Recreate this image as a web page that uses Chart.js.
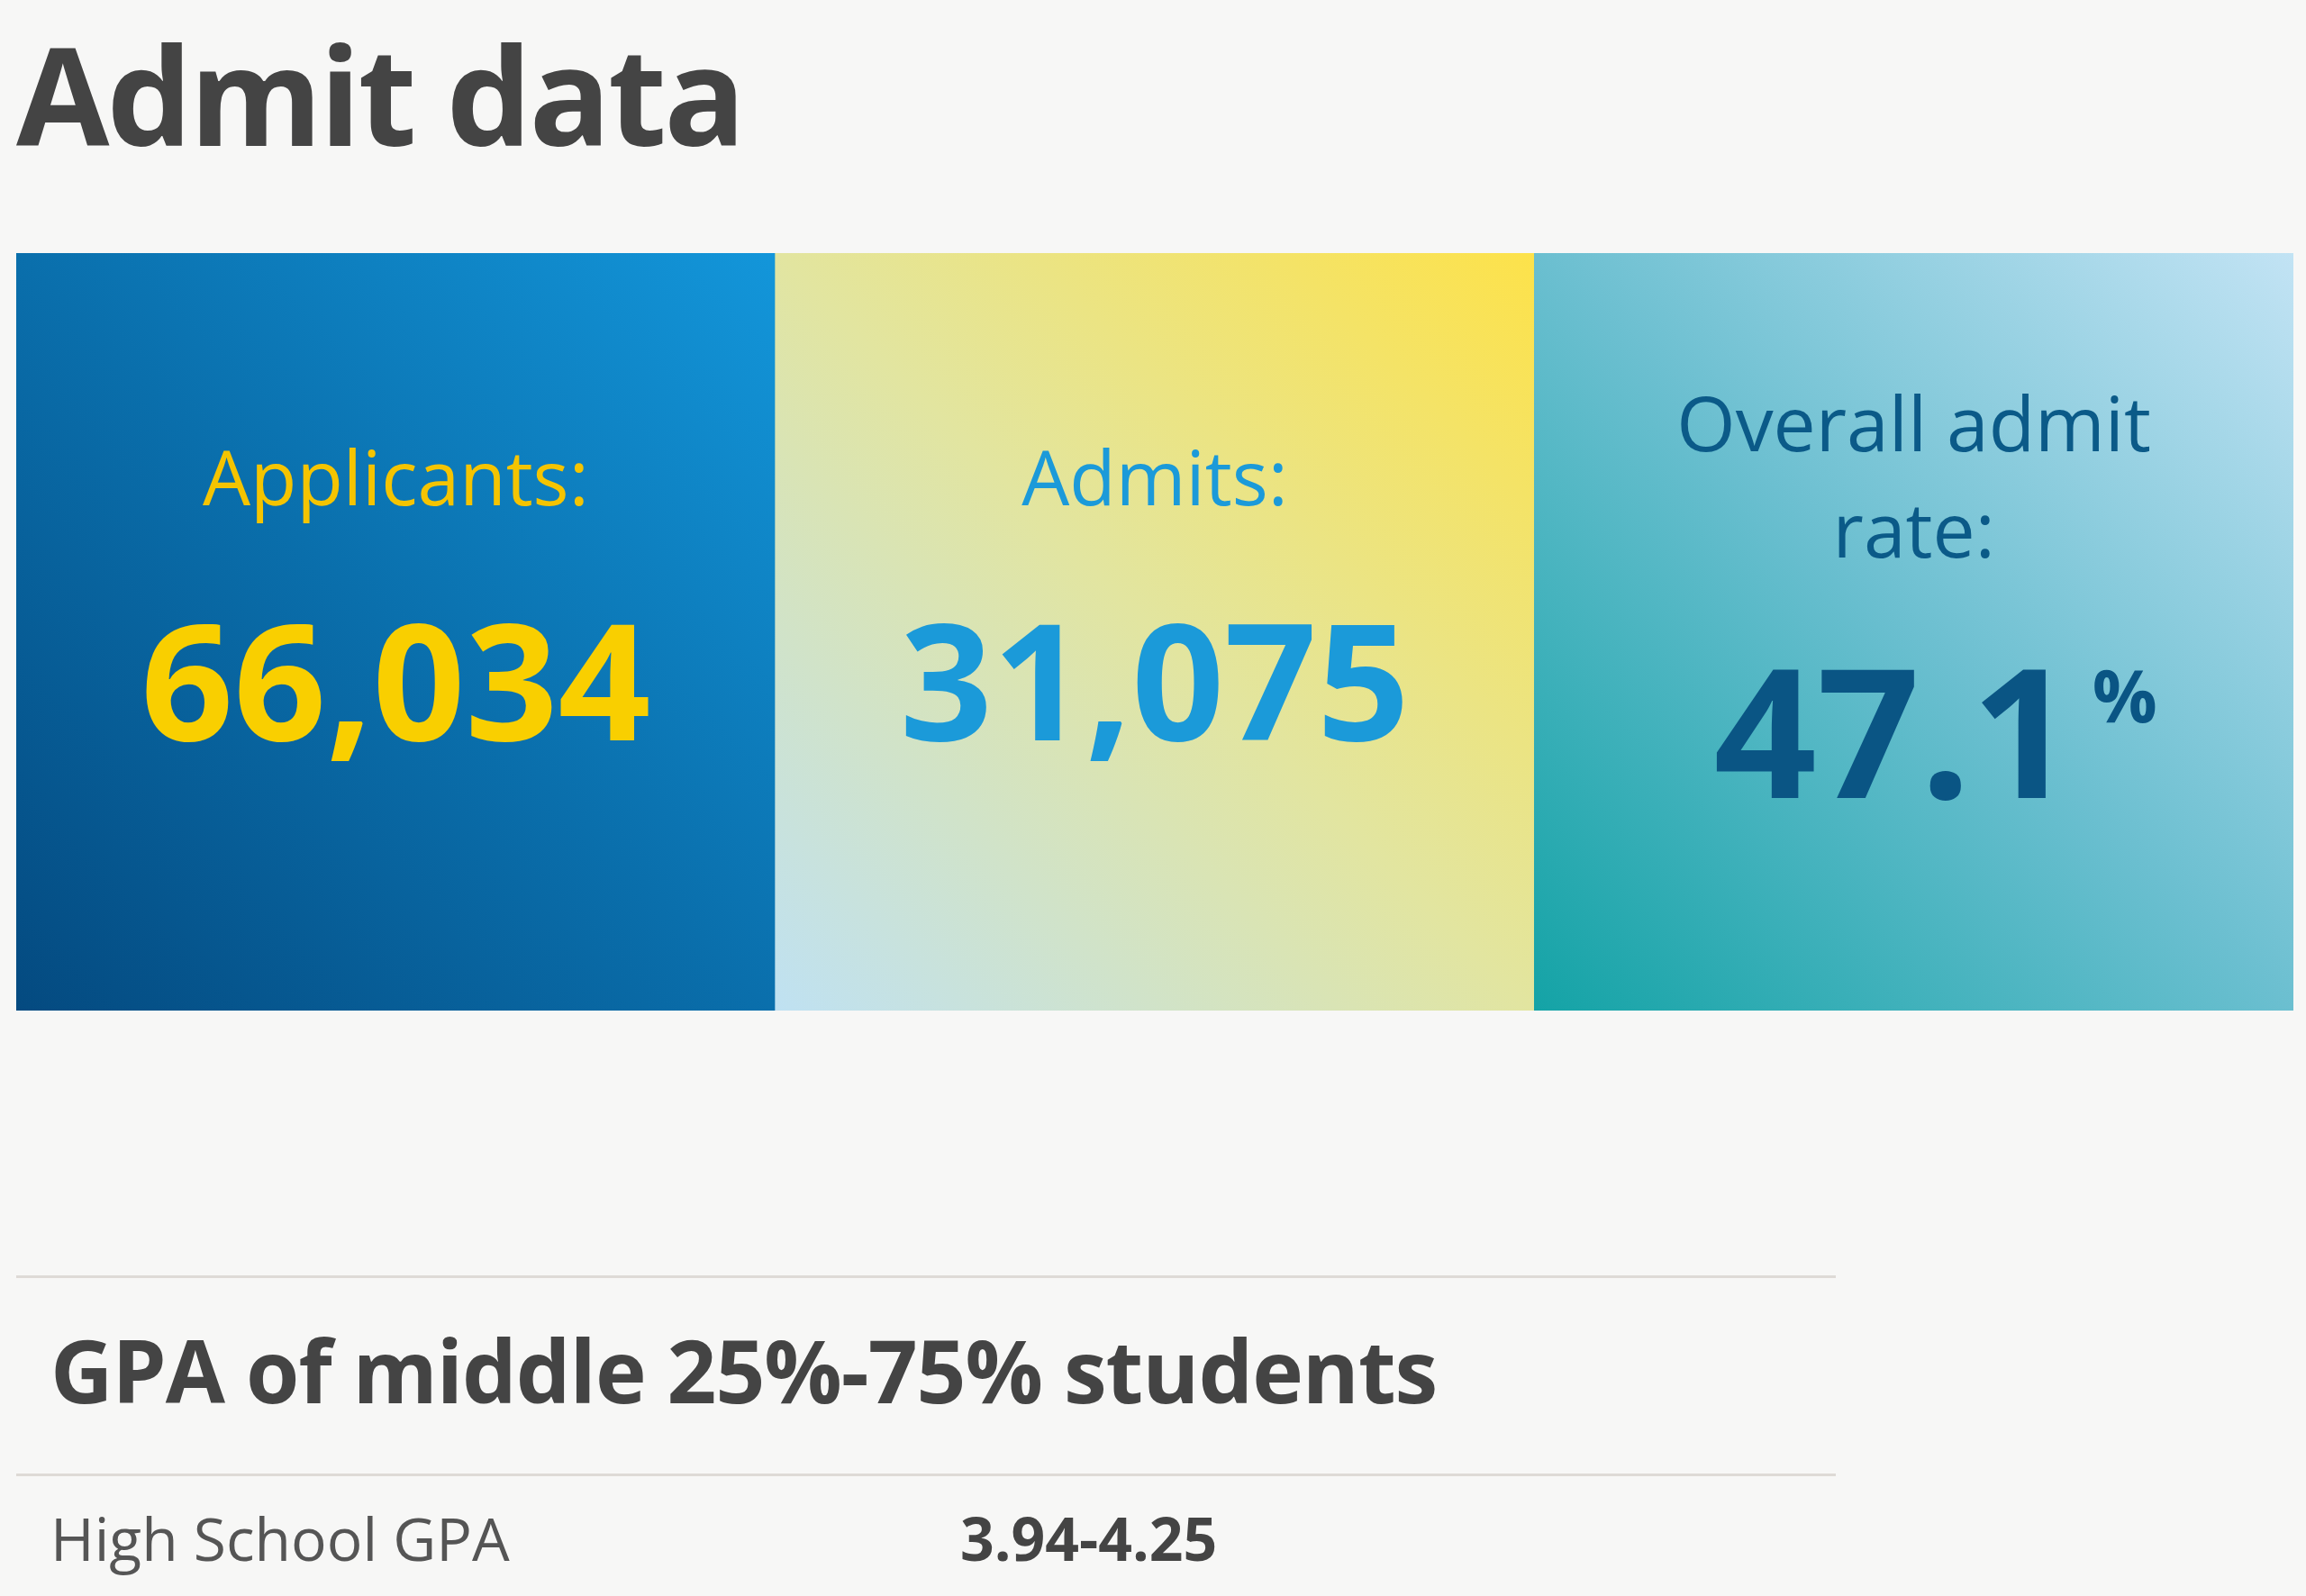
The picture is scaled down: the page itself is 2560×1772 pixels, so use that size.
<!DOCTYPE html>
<html>
<head>
<meta charset="utf-8">
<script src="https://cdn.jsdelivr.net/npm/chart.js@4"></script>
<style>
  html, body { margin: 0; padding: 0; background: #f7f7f6; }
  body { width: 2560px; height: 1772px; position: relative; font-family: "Open Sans", sans-serif; color: #444; overflow: hidden; }
  #title { position: absolute; left: 18px; top: 14px; font-size: 150px; font-weight: 700; letter-spacing: -3px; color: #444; margin: 0; line-height: 1.2; }
  #tiles { position: absolute; left: 18px; top: 281px; width: 2528px; height: 841px; }
  .rule { position: absolute; left: 18px; width: 2020px; height: 3px; background: #dedad6; }
  #sub { position: absolute; left: 56px; top: 1455px; font-size: 96px; font-weight: 700; color: #444; letter-spacing: -1px; }
  .row { position: absolute; top: 1662px; font-size: 66px; color: #555; }
</style>
</head>
<body>
<div id="title">Admit data</div>
<div id="tiles"><canvas id="tileChart"></canvas></div>
<div class="rule" style="top:1416px"></div>
<div id="sub">GPA of middle 25%-75% students</div>
<div class="rule" style="top:1636px"></div>
<div class="row" style="left:56px">High School GPA</div>
<div class="row" style="left:1066px;font-weight:700;color:#444">3.94-4.25</div>

<script>
// ================= DATA =================
const tileLabels = [["Applicants:"], ["Admits:"], ["Overall admit", "rate:"]];
const tileValues = ["66,034", "31,075", "47.1"];
const tileSuffix = ["", "", "%"];
const tileHeights = [1, 1, 1];

// ================= STYLE =================
const gradStops = [
  ["#044a80", "#0a6fac", "#1396da"],
  ["#bfe1f2", "#e2e5a0", "#fde24a"],
  ["#14a3a6", "#6bbfd0", "#c2e3f4"]
];
const labelColors = ["#f5c400", "#1b9ad9", "#0b5a88"];
const valueColors = ["#f9cf00", "#1b9ad9", "#0a5584"];

function tileGradient(ctx) {
  const chart = ctx.chart;
  const area = chart.chartArea;
  if (!area) return gradStops[ctx.dataIndex][1];
  const w = (area.right - area.left) / tileValues.length;
  const x0 = area.left + ctx.dataIndex * w;
  const g = chart.ctx.createLinearGradient(x0, area.bottom, x0 + w, area.top);
  const s = gradStops[ctx.dataIndex];
  g.addColorStop(0, s[0]);
  g.addColorStop(0.5, s[1]);
  g.addColorStop(1, s[2]);
  return g;
}

// ================= TEXT PLUGIN =================
const tileText = {
  id: "tileText",
  afterDatasetsDraw(chart) {
    const c = chart.ctx;
    const meta = chart.getDatasetMeta(0);
    c.save();
    c.textAlign = "center";
    c.textBaseline = "middle";
    meta.data.forEach((bar, i) => {
      const lines = tileLabels[i];
      const third = i === 2;
      c.fillStyle = labelColors[i];
      c.font = "400 84px 'Open Sans'";
      const top = third ? 196 : 256;
      lines.forEach((ln, k) => c.fillText(ln, bar.x, top + k * 118));
      c.fillStyle = valueColors[i];
      c.font = third ? "700 200px 'Open Sans'" : "700 180px 'Open Sans'";
      const vy = third ? 548 : 490;
      c.fillText(tileValues[i], bar.x - (third ? 22 : 0), vy);
      if (tileSuffix[i]) {
        const tw = c.measureText(tileValues[i]).width;
        c.font = "700 80px 'Open Sans'";
        c.textAlign = "left";
        c.fillText(tileSuffix[i], bar.x - 22 + tw / 2 + 20, vy - 50);
        c.textAlign = "center";
      }
    });
    c.restore();
  }
};

new Chart(document.getElementById("tileChart"), {
  type: "bar",
  data: {
    labels: tileValues,
    datasets: [{
      data: tileHeights,
      backgroundColor: tileGradient,
      borderWidth: 0,
      barPercentage: 1,
      categoryPercentage: 1
    }]
  },
  options: {
    responsive: true,
    maintainAspectRatio: false,
    animation: false,
    layout: { padding: 0 },
    plugins: { legend: { display: false }, tooltip: { enabled: false } },
    scales: {
      x: { display: false },
      y: { display: false, min: 0, max: 1 }
    }
  },
  plugins: [tileText]
});
</script>
</body>
</html>
